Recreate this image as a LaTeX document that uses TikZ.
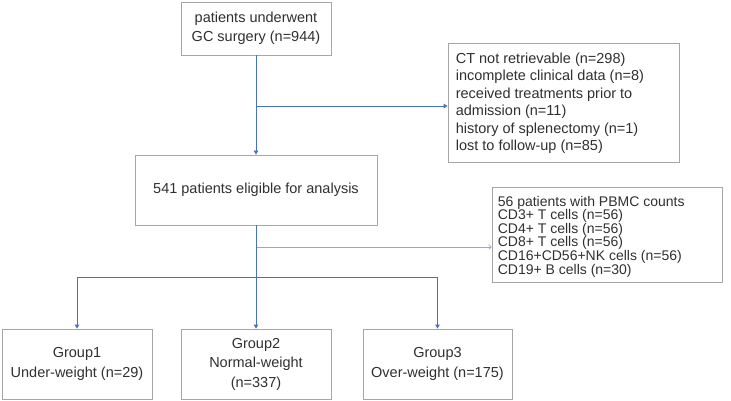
\documentclass[tikz,border=0pt]{standalone}
\usepackage{fontspec}
\setmainfont{Liberation Sans}
\usetikzlibrary{arrows.meta,positioning}
\definecolor{boxgray}{HTML}{A6A6A6}
\definecolor{arrblue}{HTML}{4472C4}
\definecolor{lightblue}{HTML}{8EA9DB}
\definecolor{txt}{HTML}{303030}
\tikzset{
  box/.style={draw=boxgray, line width=0.8pt, fill=white, text=txt, inner sep=0pt,
    font=\fontsize{14.5}{19.5}\selectfont, align=center},
  listtext/.style={text=txt, inner sep=0pt, align=left, anchor=west},
  arr/.style={draw=arrblue, line width=0.8pt, -{Triangle[length=4pt,width=4.5pt]}},
  lightarr/.style={draw=lightblue, line width=0.8pt, -{To[length=3pt,width=5pt]}}
}
\begin{document}
\begin{tikzpicture}[x=1pt,y=-1pt]
\useasboundingbox (0,0) rectangle (731,401);
\fill[white] (0,0) rectangle (731,401);
% boxes
\node[box, minimum width=150pt, minimum height=53pt, font=\fontsize{14.5}{19}\selectfont] (top) at (256,28.5)
  {patients underwent\\GC surgery (n=944)};
\node[box, minimum width=242pt, minimum height=70pt] (mid) at (256,190)
  {541 patients eligible for analysis};
\node[box, minimum width=231pt, minimum height=119pt] (excl) at (563.5,102.5) {};
\node[listtext, font=\fontsize{14.5}{17.5}\selectfont] (excltext) at ([xshift=8pt,yshift=-1pt]excl.west)
  {CT not retrievable (n=298)\\incomplete clinical data (n=8)\\received treatments prior to\\admission (n=11)\\history of splenectomy (n=1)\\lost to follow-up (n=85)};
\node[box, minimum width=230pt, minimum height=95pt] (pbmc) at (607,234.5) {};
\node[listtext, font=\fontsize{14}{13.6}\selectfont] (pbmctext) at ([xshift=6pt,yshift=-2pt]pbmc.west)
  {56 patients with PBMC counts\\CD3+ T cells (n=56)\\CD4+ T cells (n=56)\\CD8+ T cells (n=56)\\CD16+CD56+NK cells (n=56)\\CD19+ B cells (n=30)};
\node[box, minimum width=150pt, minimum height=70pt] (g1) at (77,364)
  {Group1\\Under-weight (n=29)};
\node[box, minimum width=150pt, minimum height=70pt] (g2) at (256,364)
  {Group2\\Normal-weight\\(n=337)};
\node[box, minimum width=149pt, minimum height=70pt] (g3) at (437.5,364)
  {Group3\\Over-weight (n=175)};
% junctions
\coordinate (e1) at (256,106);
\coordinate (e2) at (256,247);
\coordinate (br) at (256,277);
% connectors
\draw[arr] (top.south) -- (mid.north);
\draw[arr] (e1) -- (e1 -| excl.west);
\draw[lightarr] (e2) -- (e2 -| pbmc.west);
\draw[arr] (mid.south) -- (g2.north);
\draw[arr] (br) -| (g1.north);
\draw[arr] (br) -| (g3.north);
\end{tikzpicture}
\end{document}
